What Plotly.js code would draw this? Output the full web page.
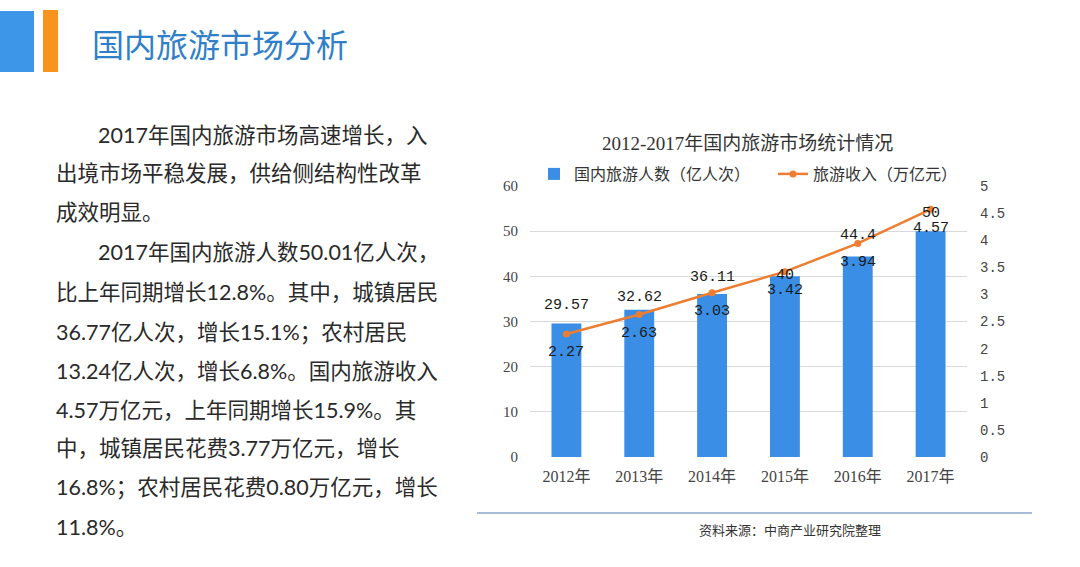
<!DOCTYPE html>
<html>
<head>
<meta charset="utf-8">
<script src="https://cdn.plot.ly/plotly-3.0.1.min.js"></script>
<style>
  html, body { margin: 0; padding: 0; background: #ffffff; overflow: hidden; }
  #chart { width: 1080px; height: 567px; }
</style>
</head>
<body>
<div id="chart"></div>
<script>
// ---------- data ----------
const years = ['2012年', '2013年', '2014年', '2015年', '2016年', '2017年'];
const visitors = [29.57, 32.62, 36.11, 40, 44.4, 50];      // 国内旅游人数（亿人次）
const revenue = [2.27, 2.63, 3.03, 3.42, 3.94, 4.57];       // 旅游收入（万亿元）
const leftTicks = [0, 10, 20, 30, 40, 50, 60];
const rightTicks = [0, 0.5, 1, 1.5, 2, 2.5, 3, 3.5, 4, 4.5, 5];
const visitorsName = '国内旅游人数（亿人次）';
const revenueName = '旅游收入（万亿元）';
const chartTitle = '2012-2017年国内旅游市场统计情况';
const pageTitle = '国内旅游市场分析';
const sourceText = '资料来源：中商产业研究院整理';
const bodyLines = [
  '2017年国内旅游市场高速增长，入',
  '出境市场平稳发展，供给侧结构性改革',
  '成效明显。',
  '2017年国内旅游人数50.01亿人次，',
  '比上年同期增长12.8%。其中，城镇居民',
  '36.77亿人次，增长15.1%；农村居民',
  '13.24亿人次，增长6.8%。国内旅游收入',
  '4.57万亿元，上年同期增长15.9%。其',
  '中，城镇居民花费3.77万亿元，增长',
  '16.8%；农村居民花费0.80万亿元，增长',
  '11.8%。'
];

// ---------- layout helpers (style only) ----------
const W = 1080, H = 567;
const px = x => x / W;
const py = y => 1 - y / H;
const serif = 'Liberation Serif, "Noto Sans CJK SC", serif';
const mono = 'Liberation Mono, "Noto Sans CJK SC", monospace';
const sans = 'Lato, "Noto Sans CJK SC", sans-serif';
const barLift = [18, 12, 16, 1, 21, 18];
const lineY = [135, 173, 212, 252, 292, 332, 371, 410, 448, 487, 527];
const lineIndent = [true, false, false, true, false, false, false, false, false, false, false];

const traces = [
  {
    type: 'bar', x: years, y: visitors, name: visitorsName,
    marker: { color: '#3a8ee6' }, hoverinfo: 'x+y'
  },
  {
    type: 'scatter', mode: 'lines+markers', x: years, y: revenue, yaxis: 'y2',
    name: revenueName,
    line: { color: '#ed7d31', width: 2.5 },
    marker: { color: '#ed7d31', size: 7 }
  }
];

const annotations = [];
// page title
annotations.push({ xref: 'paper', yref: 'paper', x: px(90), y: py(44), xanchor: 'left', yanchor: 'middle',
  text: pageTitle, showarrow: false, font: { family: sans, size: 32, color: '#2f80c8' } });
// body text
bodyLines.forEach((t, i) => {
  annotations.push({ xref: 'paper', yref: 'paper', x: px(lineIndent[i] ? 96 : 54), y: py(lineY[i]),
    xanchor: 'left', yanchor: 'middle', text: t, showarrow: false,
    font: { family: sans, size: 21.5, color: '#2a2a2a' } });
});
// chart title
annotations.push({ xref: 'paper', yref: 'paper', x: px(748), y: py(143), xanchor: 'center', yanchor: 'middle',
  text: chartTitle, showarrow: false, font: { family: serif, size: 19, color: '#333333' } });
// source
annotations.push({ xref: 'paper', yref: 'paper', x: px(697), y: py(530), xanchor: 'left', yanchor: 'middle',
  text: sourceText, showarrow: false, font: { family: serif, size: 13, color: '#333333' } });
// bar labels
years.forEach((c, i) => {
  annotations.push({ xref: 'x', yref: 'y', x: c, y: visitors[i], yshift: barLift[i], xanchor: 'center', yanchor: 'middle',
    text: String(visitors[i]), showarrow: false, font: { family: mono, size: 15, color: '#1a1a1a' } });
});
// line labels
years.forEach((c, i) => {
  annotations.push({ xref: 'x', yref: 'y2', x: c, y: revenue[i], yshift: -19, xanchor: 'center', yanchor: 'middle',
    text: revenue[i].toFixed(2), showarrow: false, font: { family: mono, size: 15, color: '#1a1a1a' } });
});

const shapes = [
  { type: 'rect', xref: 'paper', yref: 'paper', x0: px(0), x1: px(34), y0: py(72), y1: py(11),
    fillcolor: '#3e96e8', line: { width: 0 } },
  { type: 'rect', xref: 'paper', yref: 'paper', x0: px(43), x1: px(58), y0: py(72), y1: py(10),
    fillcolor: '#f7931e', line: { width: 0 } },
  { type: 'line', xref: 'paper', yref: 'paper', x0: px(477), x1: px(1032), y0: py(513), y1: py(513),
    line: { color: '#8ea5cc', width: 1.5 } }
];

const layout = {
  width: W, height: H,
  margin: { l: 0, r: 0, t: 0, b: 0, autoexpand: false },
  paper_bgcolor: '#ffffff', plot_bgcolor: 'rgba(0,0,0,0)',
  showlegend: true,
  legend: {
    orientation: 'h', x: px(534), y: py(174), xanchor: 'left', yanchor: 'middle',
    font: { family: serif, size: 16, color: '#333333' },
    itemwidth: 30, entrywidth: 194, entrywidthmode: 'pixels', bgcolor: 'rgba(0,0,0,0)'
  },
  bargap: 0.59,
  xaxis: {
    domain: [px(530), px(967)], type: 'category',
    tickfont: { family: serif, size: 16, color: '#444444' },
    showgrid: false, showline: false, zeroline: false, ticks: '', ticklabelstandoff: 8,
    fixedrange: true
  },
  yaxis: {
    domain: [py(457), py(186)], range: [0, 60], tickvals: leftTicks,
    tickfont: { family: serif, size: 15, color: '#444444' },
    gridcolor: '#d9d9d9', gridwidth: 1, zeroline: false, showline: false, ticks: '',
    ticklabelstandoff: 11, fixedrange: true
  },
  yaxis2: {
    overlaying: 'y', side: 'right', range: [0, 5], tickvals: rightTicks,
    tickfont: { family: mono, size: 14, color: '#444444' },
    showgrid: false, zeroline: false, showline: false, ticks: '',
    ticklabelstandoff: 12, fixedrange: true
  },
  annotations: annotations,
  shapes: shapes
};

Plotly.newPlot('chart', traces, layout, { displayModeBar: false, staticPlot: true });
</script>
</body>
</html>
